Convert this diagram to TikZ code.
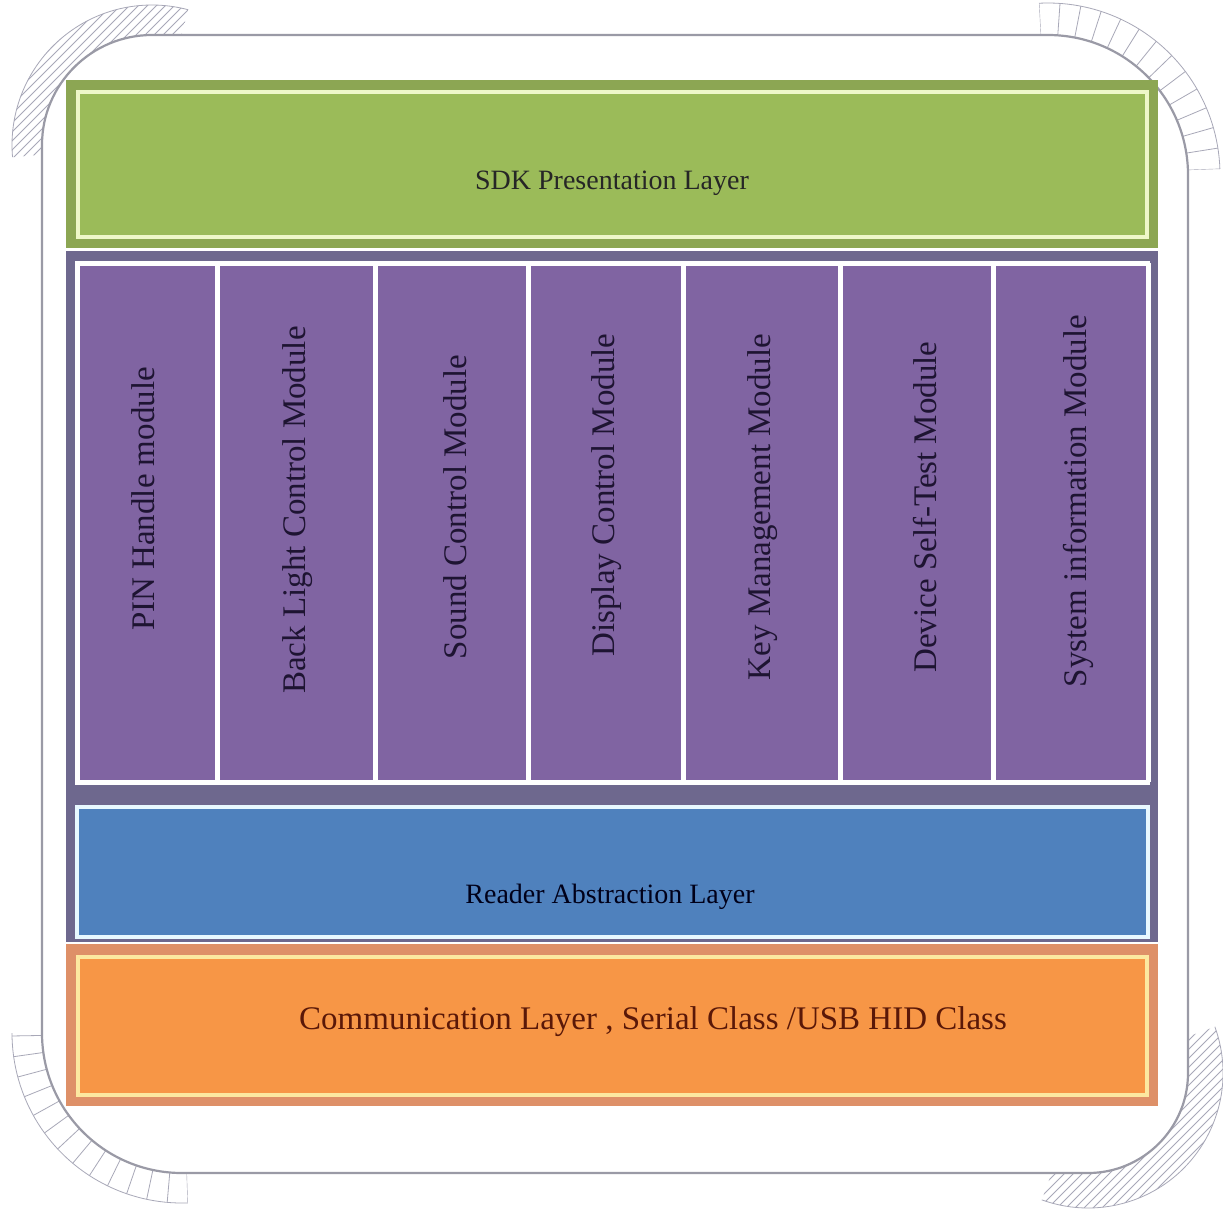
\documentclass[tikz,border=0pt]{standalone}
\usepackage{fontspec}
\setmainfont{Liberation Serif}
\begin{document}
\begin{tikzpicture}[x=1pt,y=-1pt,
  frameline/.style={draw=framegrey,line width=2.2pt},
  hatchline/.style={draw=hatchgrey,line width=0.8pt},
  vlabel/.style={rotate=90,inner sep=0pt,font=\fontsize{33}{36}\selectfont,text=vtext},
  hlabel/.style={inner sep=0pt,font=\fontsize{28}{32}\selectfont}]
\definecolor{framegrey}{HTML}{9A9AA6}
\definecolor{hatchgrey}{HTML}{A8A8B8}
\definecolor{greenband}{HTML}{8CA653}
\definecolor{greenfill}{HTML}{9BBB59}
\definecolor{greenline}{HTML}{EEF7C8}
\definecolor{purpleband}{HTML}{6E688E}
\definecolor{purplefill}{HTML}{8064A2}
\definecolor{bluefill}{HTML}{4F81BD}
\definecolor{blueline}{HTML}{E8F8FF}
\definecolor{orangeband}{HTML}{DE9068}
\definecolor{orangefill}{HTML}{F79646}
\definecolor{orangeline}{HTML}{FCE8A0}
\definecolor{vtext}{HTML}{1E1432}
\definecolor{commtext}{HTML}{5A1808}

% canvas
\fill[white] (0,0) rectangle (1223,1213);
\useasboundingbox (0,0) rectangle (1223,1213);

% hatched bands round the corners, kept outside the frame
\begin{scope}[even odd rule]
  \clip (-20,-20) rectangle (1243,1233)
    (152,35) -- (1048,35)
    arc[start angle=-90,end angle=0,radius=140] -- (1188,1073)
    arc[start angle=0,end angle=90,radius=100] -- (182,1173)
    arc[start angle=90,end angle=180,radius=140] -- (42,145)
    arc[start angle=180,end angle=270,radius=110] -- cycle;
  % top left
  \begin{scope}[nonzero rule]
    \clip (152,145) circle[radius=140];
    \clip (152,145) -- +(175:500) -- +(230:500) -- +(285:500) -- cycle;
    \foreach \c in {0,9,...,380} \draw[hatchline] ({\c+60},-60) -- (-60,{\c+60});
  \end{scope}
  % top right
  \begin{scope}[nonzero rule]
    \clip (1048,175) circle[radius=172];
    \clip (1048,175) -- +(-93:500) -- +(-47:500) -- +(-2:500) -- cycle;
    \foreach \a in {-93,-86,...,0}
      \draw[hatchline] (1048,175) -- +(\a:200);
  \end{scope}
  % bottom left
  \begin{scope}[nonzero rule]
    \clip (182,1033) circle[radius=170];
    \clip (182,1033) -- +(88:500) -- +(134:500) -- +(180:500) -- cycle;
    \foreach \a in {88,95,...,182}
      \draw[hatchline] (182,1033) -- +(\a:200);
  \end{scope}
  % bottom right
  \begin{scope}[nonzero rule]
    \clip (1088,1073) circle[radius=135];
    \clip (1088,1073) -- +(-20:500) -- +(45:500) -- +(110:500) -- cycle;
    \foreach \c in {2040,2049,...,2460} \draw[hatchline] ({\c-1000},1000) -- ({\c-1300},1300);
  \end{scope}
\end{scope}
% outer edges of the bands
\draw[hatchline] (152,145) +(175:140) arc[start angle=175,end angle=285,radius=140];
\draw[hatchline] (1048,175) +(-93:172) arc[start angle=-93,end angle=-2,radius=172];
\draw[hatchline] (182,1033) +(88:170) arc[start angle=88,end angle=180,radius=170];
\draw[hatchline] (1088,1073) +(-20:135) arc[start angle=-20,end angle=110,radius=135];

% outer frame
\draw[frameline] (152,35) -- (1048,35)
  arc[start angle=-90,end angle=0,radius=140] -- (1188,1073)
  arc[start angle=0,end angle=90,radius=100] -- (182,1173)
  arc[start angle=90,end angle=180,radius=140] -- (42,145)
  arc[start angle=180,end angle=270,radius=110] -- cycle;

% presentation layer
\fill[greenband] (66,80) rectangle (1158,248);
\draw[greenline,fill=greenfill,line width=4pt] (78,92) rectangle (1147,237);
\node[hlabel,text=black!85] (sdk) at (612,183) {SDK Presentation Layer};

% module layer and abstraction layer background
\fill[purpleband] (66,251) rectangle (1158,942);
\fill[purplefill] (77,263) rectangle (1148,782);
\foreach \x in {77,217,375,528,683,840,993,1148}
  \draw[white,line width=5pt] (\x,263) -- (\x,782);
\draw[white,line width=5pt] (75,263) -- (1150,263);
\draw[white,line width=5pt] (75,782) -- (1150,782);

\node[vlabel] (pin)  at (143,499)  {PIN Handle module};
\node[vlabel] (back) at (298,510)  {Back Light Control Module};
\node[vlabel] (snd)  at (455,507)  {Sound Control Module};
\node[vlabel] (disp) at (607,495)  {Display Control Module};
\node[vlabel] (key)  at (763,507)  {Key Management Module};
\node[vlabel] (dev)  at (925,507)  {Device Self-Test Module};
\node[vlabel] (sys)  at (1078,501) {System information Module};

% reader abstraction layer
\draw[blueline,fill=bluefill,line width=4pt] (77,807) rectangle (1148,937);
\node[hlabel,text=black!90!blue] (reader) at (610,897) {Reader Abstraction Layer};

% communication layer
\fill[orangeband] (66,944) rectangle (1158,1106);
\draw[orangeline,fill=orangefill,line width=4pt] (78,957) rectangle (1147,1095);
\node[inner sep=0pt,font=\fontsize{33}{38}\selectfont,text=commtext] (comm) at (653,1022)
  {Communication Layer , Serial Class /USB HID Class};
\end{tikzpicture}
\end{document}
